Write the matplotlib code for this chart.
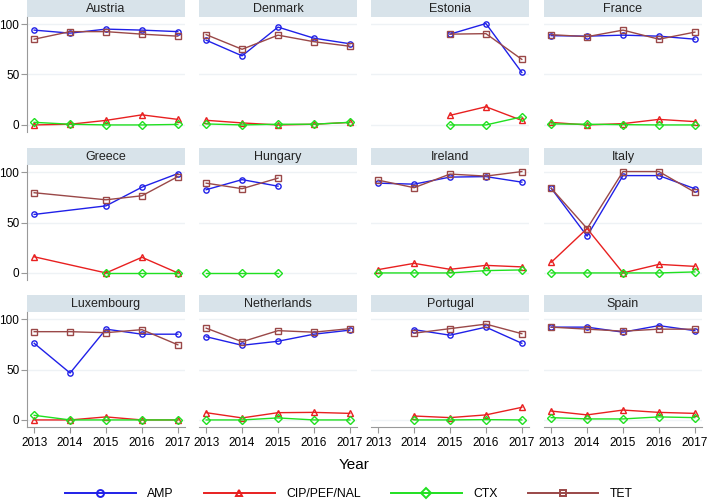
import numpy as np
import matplotlib
matplotlib.use("Agg")
import matplotlib.pyplot as plt
from matplotlib.lines import Line2D

plt.rcParams['font.family'] = ['Liberation Sans', 'DejaVu Sans']

years = [2013, 2014, 2015, 2016, 2017]
countries = ["Austria", "Denmark", "Estonia", "France",
             "Greece", "Hungary", "Ireland", "Italy",
             "Luxembourg", "Netherlands", "Portugal", "Spain"]
nan = np.nan

amp = [
    [94, 91, 95, 94, 92.5],
    [84, 68.5, 97, 86, 80.5],
    [nan, nan, 90, 100.5, 52],
    [88.5, 88, 89, 88, 85],
    [58, nan, 66.5, 85, 98.5],
    [82.5, 92.5, 86, nan, nan],
    [89, 88, 95, 95.5, 90],
    [84, 36.5, 96.5, 96.5, 83.5],
    [76, 46.5, 90, 85, 85],
    [82.5, 74, 78, 85, 89],
    [nan, 89.5, 84, 92, 76],
    [92, 92, 87, 93.5, 88.5],
]
cip = [
    [0, 0.7, 4.5, 10, 5.5],
    [4.6, 2, 0, 0.7, 2.5],
    [nan, nan, 9.5, 18, 4.5],
    [2.5, 0, 1.3, 5.5, 3.3],
    [16, nan, 0, 15.5, 0],
    [nan, nan, nan, nan, nan],
    [3.3, 9.5, 3.6, 7.5, 6],
    [10.5, 44, 0, 8.5, 6.5],
    [0, 0, 3, 0, 0],
    [7.2, 2, 7.2, 7.5, 6.5],
    [nan, 3.9, 2.3, 5, 12.5],
    [8.8, 5, 9.8, 7.5, 6.5],
]
ctx = [
    [2.6, 0.7, 0, 0, 0.5],
    [1, 0, 0.7, 0.7, 2.6],
    [nan, nan, 0, 0, 8],
    [1, 0.7, 0.3, 0, 0],
    [nan, nan, 0, 0, 0],
    [0, 0, 0, nan, nan],
    [0, 0, 0, 2.3, 3],
    [0, 0, 0, 0, 1],
    [4.6, 0, 0, 0, 0],
    [0, 0, 2, 0, 0],
    [nan, 0, 0, 0.3, 0],
    [2.3, 1, 1, 3, 2.3],
]
tet = [
    [85, 92.5, 92.5, 90, 88],
    [89.5, 75, 89, 82.5, 78],
    [nan, nan, 90, 90.5, 65],
    [89.5, 87.5, 94, 85, 92],
    [79.5, nan, 72.5, 76.5, 95.5],
    [89, 83.5, 94, nan, nan],
    [92, 84.5, 98, 96, 100.5],
    [84, 44, 100.5, 100.5, 80],
    [87.5, 87.5, 86.5, 89.5, 74.5],
    [91, 77.5, 88.5, 87, 90.5],
    [nan, 86, 90.5, 95, 85.5],
    [92, 90, 88, 90, 90],
]

series = [
    ("AMP", amp, "#2020e8", "o"),
    ("CIP/PEF/NAL", cip, "#e82020", "^"),
    ("CTX", ctx, "#20e020", "D"),
    ("TET", tet, "#9a4848", "s"),
]

W, H = 709, 504
fig = plt.figure(figsize=(W / 100, H / 100), dpi=100)

col_left = [27, 199, 371, 544]
row_top = [0, 148, 295]
pw, hh, ph = 158, 17, 115

def px(x, y, w, h):
    return [x / W, 1 - (y + h) / H, w / W, h / H]

for i, name in enumerate(countries):
    r, c = divmod(i, 4)
    x0, y0 = col_left[c], row_top[r]
    hdr = fig.add_axes(px(x0, y0, pw, hh))
    hdr.set_facecolor("#d8e3ea")
    hdr.set_xticks([]); hdr.set_yticks([])
    for s in hdr.spines.values():
        s.set_visible(False)
    hdr.text(0.5, 0.45, name, ha="center", va="center", fontsize=9, color="#222222")

    ax = fig.add_axes(px(x0, y0 + hh, pw, ph))
    ax.set_xlim(2012.8, 2017.2)
    ax.set_ylim(-7, 107)
    for yv in [0, 50, 100]:
        ax.axhline(yv, color="#eef2f5", lw=1, zorder=0)
    for s in ["top", "right"]:
        ax.spines[s].set_visible(False)
    ax.spines["left"].set_visible(c == 0)
    ax.spines["bottom"].set_visible(r == 2)
    ax.spines["left"].set_color("#999999")
    ax.spines["bottom"].set_color("#999999")
    if c == 0:
        ax.set_yticks([0, 50, 100])
        ax.tick_params(axis="y", length=4, color="#999999", labelsize=8.5, pad=1.5)
    else:
        ax.set_yticks([])
    if r == 2:
        ax.set_xticks(years)
        ax.tick_params(axis="x", length=4, color="#999999", labelsize=8.5, pad=3)
    else:
        ax.set_xticks([])

    for label, data, color, marker in series:
        yv = np.array(data[i], dtype=float)
        xv = np.array(years)
        m = ~np.isnan(yv)
        ax.plot(xv[m], yv[m], color=color, lw=1.0, marker=marker, ms=3.8,
                mfc="none", mec=color, mew=1.0, clip_on=False)

fig.text(0.5, 1 - 465 / H, "Year", ha="center", va="center", fontsize=11)

handles = [Line2D([0], [0], color=color, lw=1.4, marker=marker, ms=5,
                  mfc="none", mec=color, mew=1.4)
           for label, data, color, marker in series]
fig.legend(handles, [s[0] for s in series], loc="center",
           bbox_to_anchor=(0.492, 1 - 494 / H), ncol=4, frameon=False,
           handlelength=5.8, columnspacing=2.45, handletextpad=0.95,
           fontsize=8.8)

fig.savefig("out.png", dpi=100)
